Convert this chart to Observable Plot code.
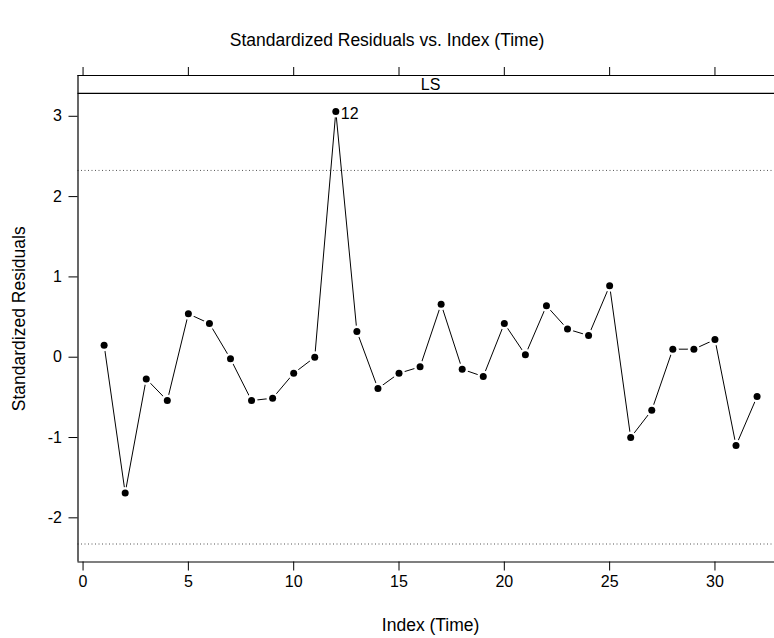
<!DOCTYPE html>
<html>
<head>
<meta charset="utf-8">
<script src="https://cdn.jsdelivr.net/npm/d3@7"></script>
<script src="https://cdn.jsdelivr.net/npm/@observablehq/plot@0.6"></script>
<style>
  html, body { margin: 0; padding: 0; background: white; overflow: hidden; width: 774px; height: 638px; }
  #title { height: 60px; box-sizing: border-box; padding-top: 30px; line-height: 20px; text-align: center;
           font-family: "Liberation Sans", Arial, Helvetica, sans-serif; font-size: 17.5px; color: black; }
  svg { overflow: hidden; }
</style>
</head>
<body>
<div id="title">Standardized Residuals vs. Index (Time)</div>
<div id="chart"></div>
<script>
// ---- data ----
const index = d3.range(1, 33);
const residuals = [0.15, -1.69, -0.27, -0.54, 0.54, 0.42, -0.02, -0.54, -0.51, -0.20, 0.00, 3.06,
                   0.32, -0.39, -0.20, -0.12, 0.66, -0.15, -0.24, 0.42, 0.03, 0.64, 0.35, 0.27,
                   0.89, -1.00, -0.66, 0.10, 0.10, 0.22, -1.10, -0.49];
const labelledPoints = [12];
const refLines = [-2.326, 2.326];
const xTicks = [0, 5, 10, 15, 20, 25, 30];
const yTicks = [-2, -1, 0, 1, 2, 3];
const stripLabel = "LS";
const xLabel = "Index (Time)";
const yLabel = "Standardized Residuals";

const data = index.map((t, i) => ({t, r: residuals[i]}));

// panel limits (lattice-style 4% padding)
const xMin = -0.24, xMax = 33.24;
const yMin = -2.55, panelTop = 3.286, stripTop = 3.508;

const fmt = d => String(d);

const plot = Plot.plot({
  width: 774,
  height: 578,
  marginLeft: 77.5,
  marginRight: -8.7,
  marginTop: 15,
  marginBottom: 76.5,
  style: {fontFamily: '"Liberation Sans", Arial, Helvetica, sans-serif', fontSize: "16px", color: "black", background: "white"},
  x: {domain: [xMin, xMax]},
  y: {domain: [yMin, stripTop]},
  marks: [
    // reference lines
    Plot.ruleY(refLines, {x1: xMin, x2: xMax, stroke: "#555", strokeDasharray: "1,2.5", strokeWidth: 1}),
    // connecting line
    Plot.line(data, {x: "t", y: "r", stroke: "black", strokeWidth: 1}),
    // white halo for gaps (type = "b")
    Plot.dot(data, {x: "t", y: "r", r: 6, fill: "white", stroke: "none"}),
    Plot.dot(data, {x: "t", y: "r", r: 3.5, fill: "black", stroke: "none"}),
    // point label
    Plot.text(data.filter(d => labelledPoints.includes(d.t)), {x: "t", y: "r", text: d => String(d.t), textAnchor: "start", dx: 5, dy: 2.5, fill: "black", fontSize: 16}),
    // panel border and strip
    Plot.ruleX([xMin], {y1: yMin, y2: stripTop, stroke: "black", strokeWidth: 1.2}),
    Plot.ruleY([yMin, panelTop, stripTop], {x1: xMin, x2: xMax, stroke: "black", strokeWidth: 1.2}),
    Plot.text([stripLabel], {x: (xMin + xMax) / 2, y: (panelTop + stripTop) / 2, text: d => d, fill: "black", lineAnchor: "middle", fontSize: 16}),
    // axes
    Plot.axisX(xTicks, {anchor: "bottom", tickSize: 9, tickPadding: 5, label: null, stroke: "black", tickFormat: fmt, fontSize: 16}),
    Plot.axisX(xTicks, {anchor: "top", tickSize: 9, tickFormat: () => "", label: null, stroke: "black"}),
    Plot.axisY(yTicks, {anchor: "left", tickSize: 9, tickPadding: 7, label: null, stroke: "black", tickFormat: fmt, fontSize: 16}),
    // axis titles
    Plot.text([xLabel], {x: (xMin + xMax) / 2, frameAnchor: "bottom", lineAnchor: "middle", dy: 63.5, text: d => d, fill: "black", fontSize: 17.5}),
    Plot.text([yLabel], {frameAnchor: "left", textAnchor: "middle", lineAnchor: "middle", rotate: -90, dx: -58.5, text: d => d, fill: "black", fontSize: 17.5})
  ]
});
document.getElementById("chart").appendChild(plot);
</script>
</body>
</html>
